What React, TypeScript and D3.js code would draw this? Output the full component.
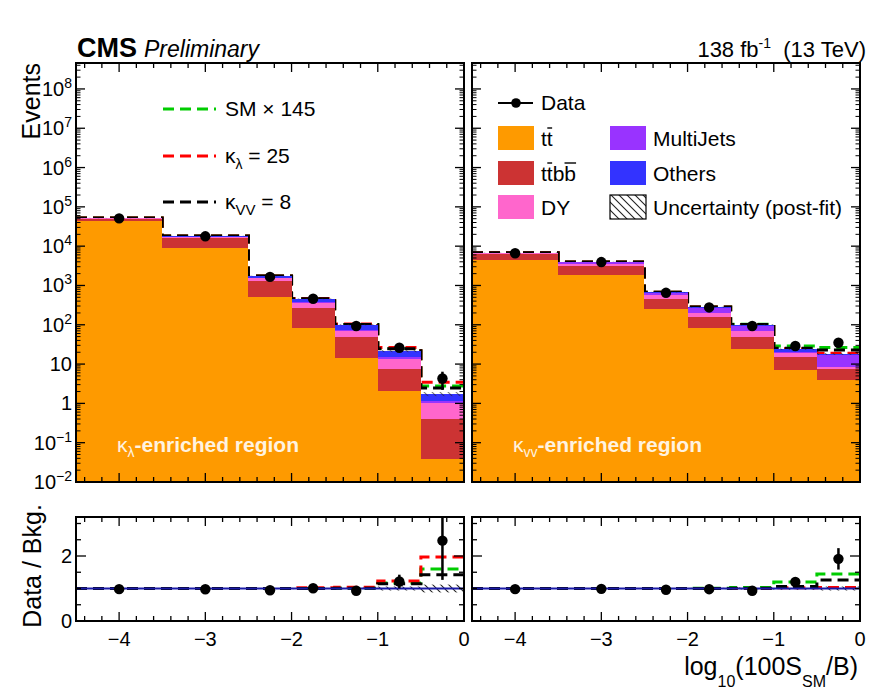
import React from 'react';
import * as d3 from 'd3';

// ---------- data ----------
const binEdges = [-4.5, -3.5, -2.5, -2, -1.5, -1, -0.5, 0];
const dataX = [-4, -3, -2.25, -1.75, -1.25, -0.75, -0.25];
const xMajorTicks = [-4, -3, -2, -1, 0];

// kappa_lambda-enriched region
const ttLeft = [44000, 8900, 513, 83, 14.5, 2.1, 0.039];
const ttbbLeft = [5500, 7300, 780, 187, 34.5, 5.4, 0.36];
const dyLeft = [1200, 800, 220, 85, 20, 6, 0.62];
const mjLeft = [300, 300, 50, 20, 6, 1.5, 0.1];
const othersLeft = [1000, 900, 180, 82, 25, 6.4, 0.62];
const dataLeft = [51000, 17800, 1650, 460, 93, 26, 4.3];
const dataErrLeft = [230, 130, 40, 21, 10, 4.5, 2.1];
const uncLeft = [0.01, 0.01, 0.015, 0.02, 0.03, 0.06, 0.12];
const smLeft = [1, 1, 1, 1, 1.01, 1.17, 1.6];
const klLeft = [1, 1, 1, 1.02, 1.04, 1.23, 1.97];
const kvvLeft = [1, 1, 1, 1, 1.01, 1.15, 1.42];

// kappa_VV-enriched region
const ttRight = [4470, 1860, 251, 83, 24, 7.1, 4.0];
const ttbbRight = [1840, 1300, 206, 75, 25, 8, 3.5];
const dyRight = [200, 390, 118, 42, 20, 4, 1.0];
const mjRight = [150, 300, 70, 70, 25, 1.5, 8.5];
const othersRight = [100, 130, 31, 12, 6, 3.4, 1.2];
const dataRight = [6620, 3940, 650, 276, 93, 28.8, 34.8];
const dataErrRight = [80, 63, 25, 17, 10, 3.5, 6];
const uncRight = [0.01, 0.01, 0.015, 0.02, 0.03, 0.04, 0.06];
const smRight = [1, 1, 1, 1.01, 1.03, 1.2, 1.45];
const klRight = [1, 1, 1, 1, 1, 1.02, 1.03];
const kvvRight = [1, 1, 1, 1, 1.01, 1.06, 1.26];

// ---------- layout / style ----------
const W = 891, H = 695;
const mainTop = 63, mainBot = 482, ratTop = 517, ratBot = 621;
const yMin = 1e-2, yMax = Math.pow(10, 8.66);
const FONT = '"Liberation Sans", Arial, Helvetica, sans-serif';
const keys = ['tt', 'ttbb', 'dy', 'mj', 'others'];
const colors: Record<string, string> = {
  tt: '#fe9a00',
  ttbb: '#cc3333',
  dy: '#ff66cc',
  mj: '#9933ff',
  others: '#3333ff',
};
const hypColors = { sm: '#00cc00', kl: '#ff0000', kvv: '#000000' };
const DASH = '11,6';

const yMain = d3.scaleLog().domain([yMin, yMax]).range([mainBot, mainTop]);
const yRat = d3.scaleLinear().domain([0, 3.2]).range([ratBot, ratTop]);

function stepPoints(vals: number[]): [number, number][] {
  return vals.flatMap((v, i) => [[binEdges[i], v], [binEdges[i + 1], v]] as [number, number][]);
}

function XTicks({ x, yTop, yBot }: any) {
  const els: any[] = [];
  for (let k = -22; k <= -1; k++) {
    const v = k * 0.2;
    const isMaj = Math.abs(v - Math.round(v)) < 1e-6;
    const len = isMaj ? 9 : 5;
    const px = x(v);
    els.push(<line key={'b' + k} x1={px} x2={px} y1={yBot} y2={yBot - len} stroke="#000" strokeWidth={1.3} />);
    els.push(<line key={'t' + k} x1={px} x2={px} y1={yTop} y2={yTop + len} stroke="#000" strokeWidth={1.3} />);
  }
  return <g>{els}</g>;
}

function Panel(props: any) {
  const { idx, x0, x1, tt, ttbb, dy, mj, others, data, dataErr, unc, sm, kl, kvv, showLabels, regionSub } = props;
  const x = d3.scaleLinear().domain([-4.5, 0]).range([x0, x1]);
  const rows = tt.map((_: number, i: number) => ({ tt: tt[i], ttbb: ttbb[i], dy: dy[i], mj: mj[i], others: others[i] }));
  const series = d3.stack<any>().keys(keys)(rows);
  const totals = rows.map((r: any) => keys.reduce((s, k) => s + r[k], 0));

  const lineMain = d3.line<[number, number]>().x((d) => x(d[0])).y((d) => yMain(d[1]));
  const lineRat = d3.line<[number, number]>().x((d) => x(d[0])).y((d) => yRat(d[1]));

  const hyps = [
    { key: 'sm', r: sm },
    { key: 'kl', r: kl },
    { key: 'kvv', r: kvv },
  ];

  const yTickEls: any[] = [];
  for (let d = -2; d <= 8; d++) {
    const py = yMain(Math.pow(10, d));
    yTickEls.push(<line key={'L' + d} x1={x0} x2={x0 + 9} y1={py} y2={py} stroke="#000" strokeWidth={1.3} />);
    yTickEls.push(<line key={'R' + d} x1={x1} x2={x1 - 9} y1={py} y2={py} stroke="#000" strokeWidth={1.3} />);
    for (let k = 2; k <= 9; k++) {
      const v = k * Math.pow(10, d);
      if (v > yMax) continue;
      const pm = yMain(v);
      yTickEls.push(<line key={'l' + d + k} x1={x0} x2={x0 + 4.5} y1={pm} y2={pm} stroke="#000" strokeWidth={1} />);
      yTickEls.push(<line key={'r' + d + k} x1={x1} x2={x1 - 4.5} y1={pm} y2={pm} stroke="#000" strokeWidth={1} />);
    }
  }
  const rTickEls: any[] = [];
  [0, 0.5, 1, 1.5, 2, 2.5, 3].forEach((v) => {
    const py = yRat(v);
    const len = v === 0 || v === 2 ? 10 : 5;
    rTickEls.push(<line key={'L' + v} x1={x0} x2={x0 + len} y1={py} y2={py} stroke="#000" strokeWidth={1.3} />);
    rTickEls.push(<line key={'R' + v} x1={x1} x2={x1 - len} y1={py} y2={py} stroke="#000" strokeWidth={1.3} />);
  });

  const clipM = 'clipM' + idx;
  const clipR = 'clipR' + idx;

  return (
    <g>
      <defs>
        <clipPath id={clipM}>
          <rect x={x0} y={mainTop} width={x1 - x0} height={mainBot - mainTop} />
        </clipPath>
        <clipPath id={clipR}>
          <rect x={x0} y={ratTop} width={x1 - x0} height={ratBot - ratTop} />
        </clipPath>
      </defs>
      {/* main panel */}
      <g clipPath={`url(#${clipM})`}>
        {hyps.map((h) => (
          <path
            key={h.key}
            d={lineMain(stepPoints(totals.map((t: number, i: number) => t * h.r[i]))) || ''}
            fill="none"
            stroke={(hypColors as any)[h.key]}
            strokeWidth={3}
            strokeDasharray={DASH}
          />
        ))}
        {series.map((s: any) =>
          s.map((d: any, i: number) => {
            const top = yMain(d[1]);
            const bot = yMain(Math.max(d[0], yMin));
            return (
              <rect
                key={s.key + i}
                x={x(binEdges[i])}
                width={x(binEdges[i + 1]) - x(binEdges[i])}
                y={top}
                height={Math.max(0, bot - top)}
                fill={colors[s.key]}
                shapeRendering="crispEdges"
              />
            );
          })
        )}
        {totals.map((t: number, i: number) => {
          const a = yMain(t * (1 + unc[i]));
          const b = yMain(t * (1 - unc[i]));
          return (
            <rect key={'h' + i} x={x(binEdges[i])} width={x(binEdges[i + 1]) - x(binEdges[i])} y={a} height={b - a} fill="url(#hatch)" opacity={0.6} />
          );
        })}
        {data.map((v: number, i: number) => (
          <g key={'d' + i}>
            <line x1={x(dataX[i])} x2={x(dataX[i])} y1={yMain(v + dataErr[i])} y2={yMain(Math.max(v - dataErr[i], yMin))} stroke="#000" strokeWidth={2.5} />
            <circle cx={x(dataX[i])} cy={yMain(v)} r={5.2} fill="#000" />
          </g>
        ))}
      </g>
      <text x={x0 + 41} y={452} fontFamily={FONT} fontSize={21} fontWeight="bold" fill="#fff3e0">
        <tspan fontWeight="normal">κ</tspan>
        <tspan fontSize={14} dy={5} fontWeight="normal">{regionSub}</tspan>
        <tspan dy={-5}>-enriched region</tspan>
      </text>
      {yTickEls}
      <XTicks x={x} yTop={mainTop} yBot={mainBot} />
      <rect x={x0} y={mainTop} width={x1 - x0} height={mainBot - mainTop} fill="none" stroke="#000" strokeWidth={2} />

      {/* ratio panel */}
      <g clipPath={`url(#${clipR})`}>
        {totals.map((t: number, i: number) => {
          const a = yRat(1 + unc[i]);
          const b = yRat(1 - unc[i]);
          return (
            <rect key={'rh' + i} x={x(binEdges[i])} width={x(binEdges[i + 1]) - x(binEdges[i])} y={a} height={b - a} fill="url(#hatch)" />
          );
        })}
        {hyps.map((h) => (
          <path key={'r' + h.key} d={lineRat(stepPoints(h.r)) || ''} fill="none" stroke={(hypColors as any)[h.key]} strokeWidth={3} strokeDasharray={DASH} />
        ))}
        <line x1={x0} x2={x1} y1={yRat(1)} y2={yRat(1)} stroke="#1a1aa8" strokeWidth={2.2} />
        {data.map((v: number, i: number) => {
          const r = v / totals[i];
          const e = dataErr[i] / totals[i];
          return (
            <g key={'rd' + i}>
              <line x1={x(dataX[i])} x2={x(dataX[i])} y1={yRat(r + e)} y2={yRat(r - e)} stroke="#000" strokeWidth={2.5} />
              <circle cx={x(dataX[i])} cy={yRat(r)} r={5.2} fill="#000" />
            </g>
          );
        })}
      </g>
      {rTickEls}
      <XTicks x={x} yTop={ratTop} yBot={ratBot} />
      <rect x={x0} y={ratTop} width={x1 - x0} height={ratBot - ratTop} fill="none" stroke="#000" strokeWidth={2} />
      {xMajorTicks.map((v) => (
        <text key={'xl' + v} x={x(v)} y={646} textAnchor="middle" fontFamily={FONT} fontSize={20} fill="#000">
          {v < 0 ? '\u2212' + Math.abs(v) : String(v)}
        </text>
      ))}
      {showLabels &&
        d3.range(-2, 9).map((d) => {
          const py = yMain(Math.pow(10, d)) + 7;
          if (d === 0 || d === 1)
            return (
              <text key={'yl' + d} x={72} y={py} textAnchor="end" fontFamily={FONT} fontSize={20}>
                {d === 0 ? '1' : '10'}
              </text>
            );
          return (
            <text key={'yl' + d} x={72} y={py} textAnchor="end" fontFamily={FONT} fontSize={20}>
              10
              <tspan fontSize={14} dy={-8}>
                {d < 0 ? '\u2212' + Math.abs(d) : String(d)}
              </tspan>
            </text>
          );
        })}
      {showLabels &&
        [0, 2].map((v) => (
          <text key={'rl' + v} x={72} y={yRat(v) + 7} textAnchor="end" fontFamily={FONT} fontSize={20}>
            {String(v)}
          </text>
        ))}
    </g>
  );
}

function LegendBox({ x, y, fill, label, overlines }: any) {
  return (
    <g>
      <rect x={x} y={y - 12} width={36} height={24} fill={fill} stroke={fill === 'url(#hatch)' ? '#000' : 'none'} strokeWidth={1.2} />
      <text x={x + 43} y={y + 8} fontFamily={FONT} fontSize={21}>
        {label}
      </text>
      {(overlines || []).map((o: [number, number], i: number) => (
        <line key={i} x1={x + 43 + o[0] * 21} x2={x + 43 + o[1] * 21} y1={y - 10} y2={y - 10} stroke="#000" strokeWidth={1.4} />
      ))}
    </g>
  );
}

export default function App() {
  return (
    <svg width={W} height={H} style={{ position: 'absolute', left: 0, top: 0, background: '#fff' }} fontFamily={FONT}>
      <defs>
        <pattern id="hatch" patternUnits="userSpaceOnUse" width={8} height={8}>
          <path d="M0,0 L8,8 M-2,6 L2,10 M6,-2 L10,2" stroke="#222" strokeWidth={1.1} />
        </pattern>
      </defs>
      <rect x={0} y={0} width={W} height={H} fill="#fff" />
      <Panel
        idx={0}
        x0={76}
        x1={464}
        tt={ttLeft}
        ttbb={ttbbLeft}
        dy={dyLeft}
        mj={mjLeft}
        others={othersLeft}
        data={dataLeft}
        dataErr={dataErrLeft}
        unc={uncLeft}
        sm={smLeft}
        kl={klLeft}
        kvv={kvvLeft}
        showLabels={true}
        regionSub="λ"
      />
      <Panel
        idx={1}
        x0={472}
        x1={860}
        tt={ttRight}
        ttbb={ttbbRight}
        dy={dyRight}
        mj={mjRight}
        others={othersRight}
        data={dataRight}
        dataErr={dataErrRight}
        unc={uncRight}
        sm={smRight}
        kl={klRight}
        kvv={kvvRight}
        showLabels={false}
        regionSub="vv"
      />

      <text x={77} y={57} fontSize={27} fontWeight="bold">CMS</text>
      <text x={144} y={57} fontSize={23} fontStyle="italic">Preliminary</text>
      <text x={866} y={57} fontSize={22} textAnchor="end">
        138 fb<tspan fontSize={14} dy={-9}>-1</tspan>
        <tspan dy={9}>{'\u00a0 (13 TeV)'}</tspan>
      </text>

      <text transform="translate(40,63) rotate(-90)" textAnchor="end" fontSize={25}>Events</text>
      <text transform="translate(41,566) rotate(-90)" textAnchor="middle" fontSize={25}>Data / Bkg.</text>
      <text x={858} y={675} textAnchor="end" fontSize={25}>
        log<tspan fontSize={16} dy={12}>10</tspan>
        <tspan dy={-12}>(100S</tspan>
        <tspan fontSize={16} dy={12}>SM</tspan>
        <tspan dy={-12}>/B)</tspan>
      </text>

      {[
        { c: hypColors.sm, y: 109 },
        { c: hypColors.kl, y: 156 },
        { c: hypColors.kvv, y: 202 },
      ].map((l, i) => (
        <line key={i} x1={163} x2={216} y1={l.y} y2={l.y} stroke={l.c} strokeWidth={3} strokeDasharray={DASH} />
      ))}
      <text x={225} y={116} fontSize={21}>SM × 145</text>
      <text x={225} y={163} fontSize={21}>
        κ<tspan fontSize={14} dy={6}>λ</tspan>
        <tspan dy={-6}> = 25</tspan>
      </text>
      <text x={225} y={209} fontSize={21}>
        κ<tspan fontSize={15} dy={6}>VV</tspan>
        <tspan dy={-6}> = 8</tspan>
      </text>

      <line x1={498} x2={533} y1={103} y2={103} stroke="#000" strokeWidth={2.2} />
      <circle cx={516} cy={103} r={4.8} fill="#000" />
      <text x={541} y={110} fontSize={21}>Data</text>
      <LegendBox x={498} y={138} fill={colors.tt} label="tt" overlines={[[0.3, 0.53]]} />
      <LegendBox x={498} y={173} fill={colors.ttbb} label="ttbb" overlines={[[0.3, 0.53], [1.12, 1.67]]} />
      <LegendBox x={498} y={207} fill={colors.dy} label="DY" />
      <LegendBox x={610} y={138} fill={colors.mj} label="MultiJets" />
      <LegendBox x={610} y={173} fill={colors.others} label="Others" />
      <LegendBox x={610} y={207} fill="url(#hatch)" label="Uncertainty (post-fit)" />
    </svg>
  );
}
